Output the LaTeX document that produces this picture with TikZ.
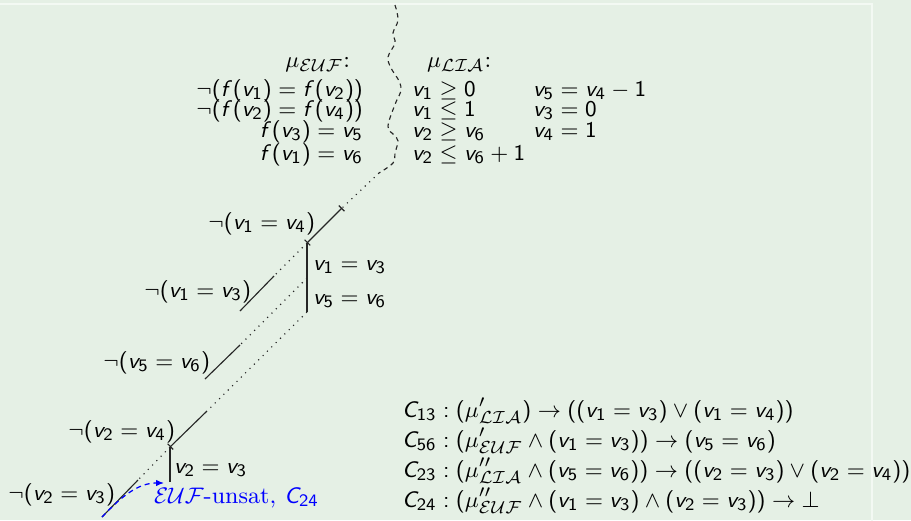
\documentclass[tikz,border=0pt]{standalone}
\usetikzlibrary{arrows.meta}
\SetSymbolFont{operators}{normal}{OT1}{cmss}{m}{n}
\DeclareSymbolFont{sfit}{OT1}{cmss}{m}{sl}
\DeclareMathSymbol{v}{\mathalpha}{sfit}{`v}
\DeclareMathSymbol{f}{\mathalpha}{sfit}{`f}
\DeclareMathSymbol{C}{\mathalpha}{sfit}{`C}
\definecolor{bgcol}{RGB}{229,240,229}
\definecolor{rimcol}{RGB}{243,249,243}
\newcommand{\mytxtsize}{\fontsize{9.4}{11}\selectfont}
\begin{document}
\begin{tikzpicture}[x=0.4pt,y=-0.4pt,
  lbl/.style={inner sep=0pt, outer sep=0pt, font=\mytxtsize},
  lw/.style={anchor=base west},
  le/.style={anchor=base east},
  solidseg/.style={line width=0.45pt, draw=black!85},
  dotseg/.style={line width=0.45pt, draw=black!85, dotted},
  tickboth/.style={solidseg, {Bar[width=3.2pt]}-{Bar[width=3.2pt]}},
  tickend/.style={solidseg, -{Bar[width=3.2pt]}},
  wavy/.style={line width=0.45pt, draw=black!85, dash pattern=on 1.8pt off 1.6pt},
  unsatarrow/.style={line width=0.5pt, draw=blue, dash pattern=on 2pt off 1.6pt, -{Latex[length=3.2pt,width=2.6pt]}}
]
\useasboundingbox (0,0) rectangle (911,520);
\fill[bgcol] (0,0) rectangle (911,520);
\draw[rimcol, line width=0.5pt] (-5,4) -- (872,4) -- (872,525);

% headers
\node[lbl, le] (muE) at (350,67) {$\mu_{\mathcal{EUF}}$:};
\node[lbl, lw] (muL) at (427,67) {$\mu_{\mathcal{LIA}}$:};
% EUF column
\node[lbl, le] (e1) at (363,96) {$\neg(f(v_1) = f(v_2))$};
\node[lbl, le] (e2) at (363,116) {$\neg(f(v_2) = f(v_4))$};
\node[lbl, le] (e3) at (363,137) {$f(v_3) = v_5$};
\node[lbl, le] (e4) at (363,160) {$f(v_1) = v_6$};
% LIA columns
\node[lbl, lw] (l1) at (412,96) {$v_1 \geq 0$};
\node[lbl, lw] (l2) at (412,116) {$v_1 \leq 1$};
\node[lbl, lw] (l3) at (412,137) {$v_2 \geq v_6$};
\node[lbl, lw] (l4) at (412,160) {$v_2 \leq v_6 + 1$};
\node[lbl, lw] (r1) at (533,96) {$v_5 = v_4 - 1$};
\node[lbl, lw] (r2) at (533,116) {$v_3 = 0$};
\node[lbl, lw] (r3) at (533,137) {$v_4 = 1$};

% wavy separator
\coordinate (W) at (379,173);
\draw[wavy] plot[smooth, tension=0.6] coordinates {(395,5) (398,20) (393,33) (395,43) (388,57) (391,68) (399,81) (401,91) (396,102) (388,126) (394,135) (398,141) (395,153) (393,163) (W)};

% trail coordinates
\coordinate (A) at (342,208);
\coordinate (B) at (307,243);
\coordinate (M) at (307,278);
\coordinate (Cc) at (307,312);
\coordinate (b13a) at (274,276);
\coordinate (b13b) at (240,311);
\coordinate (b56a) at (240,345);
\coordinate (b56b) at (205,379);
\coordinate (b24a) at (207,411);
\coordinate (D) at (170,447);
\coordinate (E) at (170,482);
\coordinate (b23a) at (138,480);
\coordinate (b23b) at (102,517);
\coordinate (U) at (164,483);

\draw[dotseg] (W) -- (A);
\draw[tickboth] (A) -- (B);
\draw[solidseg] (B) -- (Cc);
\draw[dotseg] (B) -- (b13a);
\draw[solidseg] (b13a) -- (b13b);
\draw[dotseg] (M) -- (b56a);
\draw[solidseg] (b56a) -- (b56b);
\draw[dotseg] (Cc) -- (b24a);
\draw[tickend] (b24a) -- (D);
\draw[solidseg] (D) -- (E);
\draw[dotseg] (D) -- (b23a);
\draw[solidseg] (b23a) -- (b23b);
\draw[unsatarrow] (b23b) .. controls (122,496) and (138,483) .. (U);

% trail labels
\node[lbl, le] (n14) at (315,229) {$\neg(v_1 = v_4)$};
\node[lbl, lw] (p13) at (313,270) {$v_1 = v_3$};
\node[lbl, lw] (p56) at (313,304) {$v_5 = v_6$};
\node[lbl, le] (n13) at (251,297) {$\neg(v_1 = v_3)$};
\node[lbl, le] (n56) at (210,368) {$\neg(v_5 = v_6)$};
\node[lbl, le] (n24) at (175,437) {$\neg(v_2 = v_4)$};
\node[lbl, lw] (p23) at (174,473) {$v_2 = v_3$};
\node[lbl, le] (n23) at (115,500) {$\neg(v_2 = v_3)$};
\node[lbl, lw, text=blue] (unsat) at (154,503) {$\mathcal{EUF}$-unsat, $C_{24}$};

% clauses
\node[lbl, lw] (c1) at (402,417) {$C_{13} : (\mu'_{\mathcal{LIA}}) \rightarrow ((v_1 = v_3) \vee (v_1 = v_4))$};
\node[lbl, lw] (c2) at (402,447) {$C_{56} : (\mu'_{\mathcal{EUF}} \wedge (v_1 = v_3)) \rightarrow (v_5 = v_6)$};
\node[lbl, lw] (c3) at (402,477) {$C_{23} : (\mu''_{\mathcal{LIA}} \wedge (v_5 = v_6)) \rightarrow ((v_2 = v_3) \vee (v_2 = v_4))$};
\node[lbl, lw] (c4) at (402,507) {$C_{24} : (\mu''_{\mathcal{EUF}} \wedge (v_1 = v_3) \wedge (v_2 = v_3)) \rightarrow \bot$};
\end{tikzpicture}
\end{document}
